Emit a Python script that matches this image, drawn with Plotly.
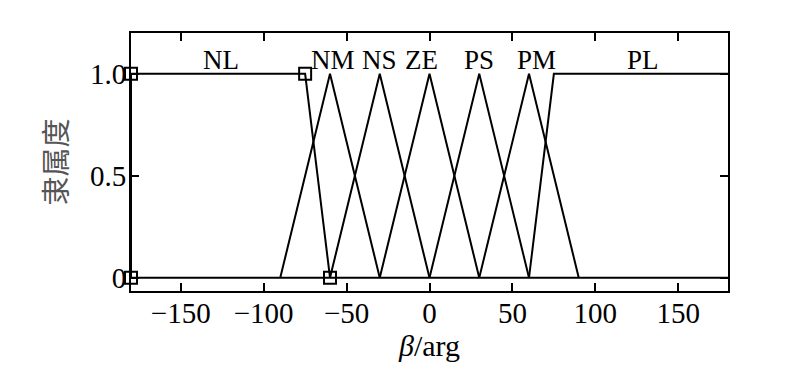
import plotly.graph_objects as go

# Membership functions (x in arg, y membership)
nl_x = [-180, -180, -75, -60]
nl_y = [0, 1, 1, 0]
nm_x = [-90, -60, -30]
ns_x = [-60, -30, 0]
ze_x = [-30, 0, 30]
ps_x = [0, 30, 60]
pm_x = [30, 60, 90]
tri_y = [0, 1, 0]
pl_x = [60, 75, 180]
pl_y = [0, 1, 1]
base_x = [-180, 180]
base_y = [0, 0]

set_names = ["NL", "NM", "NS", "ZE", "PS", "PM", "PL"]
name_x = [-126, -58, -30, -4.6, 30, 64.4, 128.7]
name_y = 1.07

x_ticks = [-150, -100, -50, 0, 50, 100, 150]
y_ticks = [0, 0.5, 1.0]
y_ticktext = ["0", "0.5", "1.0"]

LW = 2
font_serif = "Liberation Serif, Times New Roman, serif"

fig = go.Figure()
fig.add_trace(go.Scatter(x=base_x, y=base_y, mode="lines",
                         line=dict(color="black", width=LW)))
for xs in [nm_x, ns_x, ze_x, ps_x, pm_x]:
    fig.add_trace(go.Scatter(x=xs, y=tri_y, mode="lines",
                             line=dict(color="black", width=LW)))
fig.add_trace(go.Scatter(x=pl_x, y=pl_y, mode="lines",
                         line=dict(color="black", width=LW)))
fig.add_trace(go.Scatter(x=nl_x, y=nl_y, mode="lines+markers",
                         line=dict(color="black", width=LW),
                         marker=dict(symbol="square-open", size=12, color="black",
                                     line=dict(width=2)),
                         cliponaxis=False))

for n, xv in zip(set_names, name_x):
    fig.add_annotation(x=xv, y=name_y, text=n, showarrow=False,
                       font=dict(family=font_serif, size=27, color="black"),
                       xanchor="center", yanchor="middle")

fig.update_layout(
    width=800, height=373,
    margin=dict(l=131, r=72, t=33, b=82),
    plot_bgcolor="white", paper_bgcolor="white",
    showlegend=False,
    font=dict(family=font_serif, color="black"),
)
fig.update_xaxes(
    range=[-180, 180], tickvals=x_ticks, ticks="inside", ticklen=8, tickwidth=2,
    tickcolor="black", showline=True, linecolor="black", linewidth=2, mirror="ticks",
    showgrid=False, zeroline=False, ticklabelstandoff=-5,
    tickfont=dict(family=font_serif, size=29, color="black"),
    title=dict(text="<i>β</i>/arg", font=dict(family=font_serif, size=30, color="black"),
               standoff=6),
)
fig.update_yaxes(
    range=[-0.065, 1.2], tickvals=y_ticks, ticktext=y_ticktext, ticks="inside",
    ticklen=8, tickwidth=2, tickcolor="black", showline=True, linecolor="black",
    linewidth=2, mirror="ticks", showgrid=False, zeroline=False, ticklabelstandoff=-3,
    tickfont=dict(family=font_serif, size=29, color="black"),
    title=dict(text="隶属度", font=dict(family="Noto Sans CJK SC", size=29, color="#555555"),
               standoff=14),
)

fig.write_html("out.html", post_script="document.body.style.margin='0';",
               config={"displayModeBar": False})
